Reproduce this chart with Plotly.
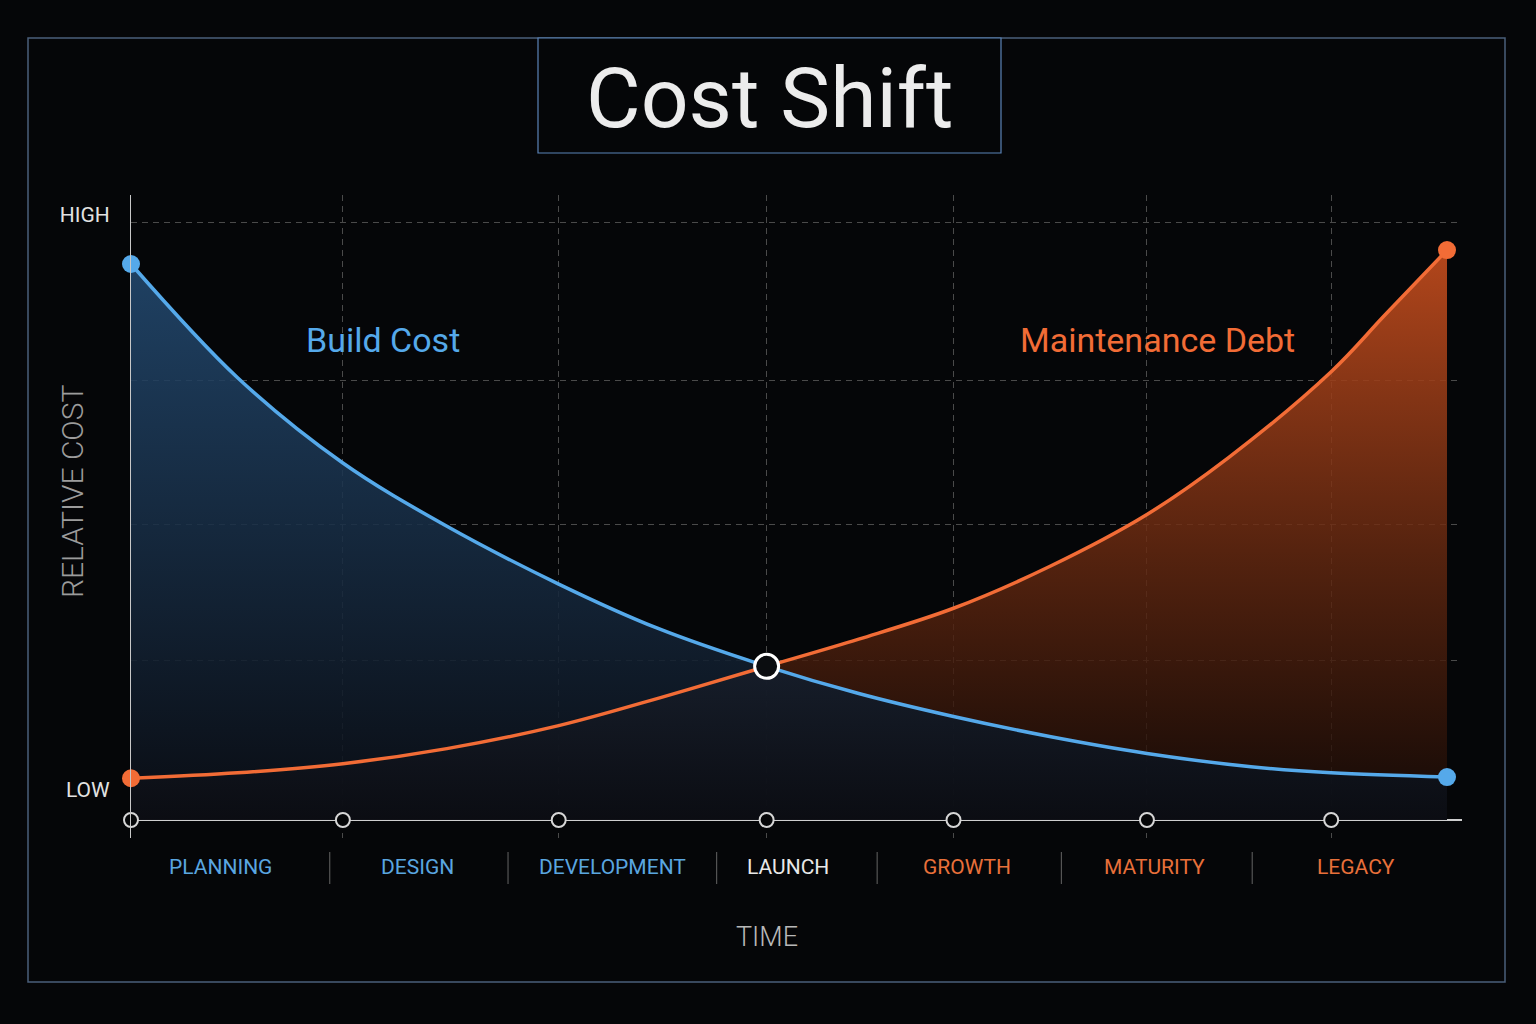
import plotly.graph_objects as go

# ---- values ----
phases = ["PLANNING", "DESIGN", "DEVELOPMENT", "LAUNCH", "GROWTH", "MATURITY", "LEGACY"]
milestones = [0, 16.1, 32.5, 48.3, 62.5, 77.2, 91.2]   # start of each phase on the time axis

build_x = [0, 8.1, 16.1, 23.8, 32.5, 40.0, 48.3, 55.3, 62.5, 69.8, 77.2, 85.1, 91.2, 100]
build_cost = [91.9, 73.1, 59.0, 48.8, 39.0, 31.7, 25.4, 20.9, 17.1, 13.8, 11.0, 8.8, 7.8, 7.1]

debt_x = [0, 8.1, 16.1, 24.0, 32.5, 40.5, 48.3, 55.3, 62.5, 69.8, 77.2, 83.4, 91.2, 95.3, 100]
maintenance_debt = [6.9, 7.8, 9.3, 11.8, 15.6, 20.4, 25.4, 29.9, 35.0, 41.9, 50.5, 59.9,
                    74.1, 83.5, 94.2]

level_vals = [5, 100]
level_text = ["LOW", "HIGH"]
grid_levels = [26.3, 48.8, 72.7, 98.8]

# ---- styling ----
BG = "#050608"
BLUE = "#55a9ea"
ORANGE = "#f26c36"
FONT = "Roboto"

phase_colors = ["#5aa6e0", "#5aa6e0", "#5aa6e0", "#e8e8e8", "#e8703a", "#e8703a", "#e8703a"]
label_pos = [6.8, 21.8, 36.6, 49.9, 63.5, 77.8, 93.1]
sep_pos = [15.1, 28.65, 44.5, 56.7, 70.7, 85.2]

# plot area in pixels, helpers to place things in paper coords
PL, PR, PT, PB = 131, 1462, 195, 838


def px(p):
    return (p - PL) / (PR - PL)


def py(p):
    return (PB - p) / (PB - PT)


launch_x = milestones[phases.index("LAUNCH")]
launch_y = build_cost[build_x.index(launch_x)]

fig = go.Figure()

# gradient fills
fig.add_trace(go.Scatter(
    x=debt_x, y=maintenance_debt, mode="lines",
    line=dict(width=0, shape="spline", color="rgba(0,0,0,0)"),
    fill="tozeroy",
    fillgradient=dict(type="vertical", start=0, stop=95,
                      colorscale=[[0, "rgba(22,10,6,0.80)"],
                                  [0.45, "rgba(100,40,16,0.82)"],
                                  [1, "rgba(200,78,30,0.90)"]]),
    hoverinfo="skip", showlegend=False))
fig.add_trace(go.Scatter(
    x=build_x, y=build_cost, mode="lines",
    line=dict(width=0, shape="spline", color="rgba(0,0,0,0)"),
    fill="tozeroy",
    fillgradient=dict(type="vertical", start=0, stop=93,
                      colorscale=[[0, "rgba(10,13,20,0.88)"],
                                  [1, "rgba(36,76,116,0.85)"]]),
    hoverinfo="skip", showlegend=False))

# curves
fig.add_trace(go.Scatter(x=debt_x, y=maintenance_debt, mode="lines",
                         line=dict(color=ORANGE, width=3.5, shape="spline"),
                         cliponaxis=False, showlegend=False))
fig.add_trace(go.Scatter(x=build_x, y=build_cost, mode="lines",
                         line=dict(color=BLUE, width=3.5, shape="spline"),
                         cliponaxis=False, showlegend=False))

# end points
fig.add_trace(go.Scatter(x=[build_x[0], build_x[-1]], y=[build_cost[0], build_cost[-1]],
                         mode="markers", marker=dict(size=18, color=BLUE),
                         cliponaxis=False, showlegend=False))
fig.add_trace(go.Scatter(x=[debt_x[0], debt_x[-1]], y=[maintenance_debt[0], maintenance_debt[-1]],
                         mode="markers", marker=dict(size=18, color=ORANGE),
                         cliponaxis=False, showlegend=False))

# milestones on the time axis
fig.add_trace(go.Scatter(x=milestones, y=[0] * len(milestones), mode="markers",
                         marker=dict(size=14, color=BG, line=dict(color="#d6d6d6", width=2)),
                         cliponaxis=False, showlegend=False))

# crossover at launch
fig.add_trace(go.Scatter(x=[launch_x], y=[launch_y], mode="markers",
                         marker=dict(size=24, color="#0b0d10", line=dict(color="#ffffff", width=3)),
                         cliponaxis=False, showlegend=False))

annotations = [
    dict(text="Cost Shift", x=px(769.5), y=py(99), font=dict(size=84, color="#ececec")),
    dict(text="Build Cost", x=px(383), y=py(340), font=dict(size=34, color=BLUE)),
    dict(text="Maintenance Debt", x=px(1157), y=py(340), font=dict(size=34, color=ORANGE)),
    dict(text="RELATIVE COST", x=px(72), y=py(492), textangle=-90,
         font=dict(size=30, color="#9c9c9c", weight=300)),
    dict(text="TIME", x=px(767), y=py(937), font=dict(size=27, color="#b8b8b8", weight=300)),
]
for a in annotations:
    a.update(xref="paper", yref="paper", showarrow=False, xanchor="center", yanchor="middle")
for name, xpos, col in zip(phases, label_pos, phase_colors):
    annotations.append(dict(text=name, x=xpos, y=py(867), xref="x", yref="paper",
                            showarrow=False, xanchor="center", yanchor="middle",
                            font=dict(size=21, color=col)))

shapes = [
    dict(type="rect", xref="paper", yref="paper", x0=px(28), x1=px(1505), y0=py(982), y1=py(38),
         line=dict(color="#4a5f7a", width=1.5), layer="below"),
    dict(type="rect", xref="paper", yref="paper", x0=px(538), x1=px(1001), y0=py(153), y1=py(38),
         line=dict(color="#5b84b8", width=1.2), fillcolor=BG, layer="below"),
]
for s in sep_pos:
    shapes.append(dict(type="line", xref="x", yref="paper", x0=s, x1=s, y0=py(852), y1=py(884),
                       line=dict(color="#555555", width=1.2)))

fig.update_layout(
    width=1536, height=1024,
    margin=dict(l=PL, r=1536 - PR, t=PT, b=1024 - PB),
    paper_bgcolor=BG, plot_bgcolor=BG,
    font=dict(family=FONT, color="#e0e0e0"),
    annotations=annotations, shapes=shapes,
    showlegend=False,
)
fig.update_xaxes(
    range=[0, (PR - PL) / 13.16],
    tickmode="array", tickvals=milestones[1:], showticklabels=False, ticks="",
    showgrid=True, gridcolor="#4a4a4a", gridwidth=1, griddash="6px,5px",
    zeroline=False, showline=False,
)
fig.update_yaxes(
    range=[(820 - PB) / 6.05, (820 - PT) / 6.05],
    tickmode="array", tickvals=level_vals, ticktext=level_text,
    tickfont=dict(size=21, color="#e2e2e2"), ticks="", ticklabelstandoff=16,
    showgrid=False,
    minor=dict(tickmode="array", tickvals=grid_levels, showgrid=True,
               gridcolor="#4a4a4a", gridwidth=1, griddash="6px,5px", ticks=""),
    showline=True, linecolor="#c8c8c8", linewidth=1.2,
    zeroline=True, zerolinecolor="#cfcfcf", zerolinewidth=1.8,
)

fig.write_html("out.html", config={"displayModeBar": False},
               post_script="document.body.style.margin='0';")
